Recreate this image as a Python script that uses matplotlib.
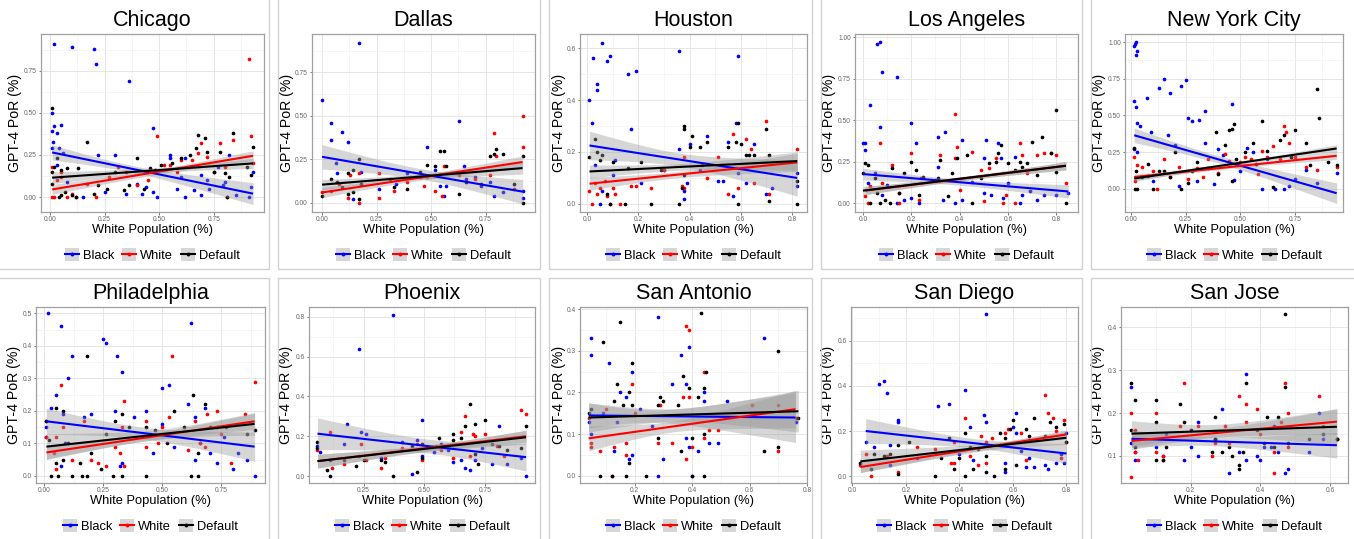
import numpy as np
import matplotlib
matplotlib.use('Agg')
import matplotlib.pyplot as plt
from matplotlib.patches import Patch
from matplotlib.lines import Line2D
from matplotlib.legend_handler import HandlerTuple
from matplotlib.ticker import FixedLocator, AutoMinorLocator

plt.rcParams['font.family'] = ['Liberation Sans', 'DejaVu Sans']

# ---------------- DATA (points as (white_pop, por) pairs) ----------------
series_names = ["Black", "White", "Default"]
series_colors = ["#0000ff", "#ff0000", "#000000"]

chicago_black = [(0.01,0.29),(0.01,0.50),(0.01,0.39),(0.02,0.42),(0.02,0.91),(0.015,0.33),(0.03,0.38),(0.05,0.43),(0.04,0.29),(0.03,0.19),(0.10,0.89),(0.20,0.88),(0.21,0.79),(0.36,0.69),(0.47,0.41),(0.30,0.25),(0.22,0.25),(0.08,0.09),(0.25,0.03),(0.35,0.02),(0.42,0.02),(0.47,0.03),(0.49,0.00),(0.55,0.25),(0.55,0.23),(0.58,0.05),(0.62,0.00),(0.62,0.23),(0.66,0.04),(0.69,0.13),(0.69,0.01),(0.72,0.10),(0.73,0.05),(0.77,0.18),(0.79,0.07),(0.80,0.09),(0.82,0.25),(0.85,0.01),(0.91,0.00),(0.92,0.06),(0.93,0.15),(0.06,0.26),(0.15,0.0),(0.40,0.08),(0.44,0.06),(0.60,0.12)]
chicago_white = [(0.01,0.18),(0.01,0.0),(0.02,0.0),(0.03,0.10),(0.05,0.15),(0.05,0.12),(0.08,0.0),(0.10,0.02),(0.12,0.0),(0.17,0.08),(0.21,0.0),(0.31,0.18),(0.35,0.15),(0.40,0.07),(0.49,0.36),(0.52,0.19),(0.55,0.19),(0.58,0.15),(0.65,0.22),(0.68,0.26),(0.69,0.32),(0.72,0.24),(0.78,0.32),(0.80,0.18),(0.81,0.0),(0.84,0.34),(0.91,0.82),(0.92,0.36),(0.93,0.20),(0.75,0.15),(0.45,0.10),(0.60,0.22),(0.27,0.12)]
chicago_default = [(0.01,0.53),(0.01,0.15),(0.01,0.08),(0.02,0.18),(0.03,0.23),(0.04,0.0),(0.05,0.01),(0.05,0.16),(0.08,0.17),(0.10,0.01),(0.13,0.17),(0.17,0.33),(0.20,0.02),(0.22,0.07),(0.26,0.05),(0.30,0.15),(0.34,0.04),(0.36,0.07),(0.40,0.23),(0.43,0.05),(0.46,0.17),(0.48,0.16),(0.51,0.19),(0.56,0.20),(0.60,0.23),(0.64,0.25),(0.67,0.29),(0.68,0.37),(0.71,0.35),(0.72,0.27),(0.75,0.15),(0.78,0.27),(0.80,0.14),(0.81,0.0),(0.82,0.12),(0.84,0.38),(0.90,0.18),(0.93,0.30),(0.92,0.13),(0.12,0.0),(0.07,0.03)]

dallas_black = [(0.0,0.59),(0.04,0.46),(0.04,0.36),(0.09,0.41),(0.12,0.35),(0.17,0.92),(0.065,0.23),(0.07,0.17),(0.14,0.02),(0.18,0.18),(0.26,0.08),(0.39,0.17),(0.48,0.32),(0.52,0.19),(0.54,0.10),(0.56,0.04),(0.57,0.10),(0.63,0.47),(0.65,0.21),(0.66,0.14),(0.73,0.10),(0.77,0.12),(0.79,0.04),(0.83,0.06),(0.92,0.03),(0.92,0.07),(0.34,0.11),(0.45,0.15),(0.70,0.15)]
dallas_white = [(0.0,0.06),(0.04,0.07),(0.08,0.11),(0.12,0.03),(0.13,0.16),(0.17,0.0),(0.17,0.17),(0.26,0.03),(0.26,0.17),(0.33,0.07),(0.39,0.12),(0.47,0.10),(0.52,0.07),(0.55,0.04),(0.56,0.21),(0.63,0.16),(0.77,0.16),(0.79,0.40),(0.80,0.27),(0.92,0.50),(0.92,0.32),(0.88,0.08),(0.48,0.15),(0.70,0.14)]
dallas_default = [(0.0,0.04),(0.04,0.14),(0.07,0.12),(0.09,0.09),(0.12,0.17),(0.12,0.05),(0.14,0.19),(0.14,0.06),(0.17,0.25),(0.17,0.02),(0.18,0.11),(0.31,0.14),(0.33,0.09),(0.39,0.08),(0.45,0.18),(0.48,0.22),(0.52,0.21),(0.54,0.30),(0.56,0.30),(0.57,0.21),(0.63,0.05),(0.66,0.12),(0.77,0.27),(0.79,0.28),(0.80,0.31),(0.83,0.28),(0.88,0.11),(0.92,0.27),(0.92,0.0),(0.73,0.11)]

houston_black = [(0.01,0.40),(0.02,0.31),(0.025,0.56),(0.03,0.15),(0.04,0.46),(0.04,0.44),(0.06,0.62),(0.08,0.55),(0.09,0.57),(0.16,0.50),(0.19,0.51),(0.17,0.29),(0.05,0.0),(0.06,0.05),(0.10,0.11),(0.11,0.17),(0.21,0.08),(0.36,0.59),(0.36,0.21),(0.38,0.02),(0.38,0.05),(0.39,0.08),(0.40,0.23),(0.47,0.26),(0.51,0.09),(0.53,0.09),(0.55,0.24),(0.57,0.03),(0.58,0.31),(0.59,0.57),(0.59,0.12),(0.62,0.08),(0.65,0.23),(0.70,0.04),(0.72,0.06),(0.82,0.12),(0.82,0.07),(0.30,0.13),(0.44,0.13)]
houston_white = [(0.01,0.05),(0.02,0.0),(0.03,0.08),(0.04,0.04),(0.05,0.06),(0.07,0.09),(0.08,0.03),(0.09,0.0),(0.10,0.06),(0.11,0.04),(0.13,0.0),(0.17,0.07),(0.19,0.07),(0.25,0.06),(0.37,0.07),(0.38,0.06),(0.38,0.18),(0.47,0.10),(0.51,0.18),(0.55,0.04),(0.57,0.27),(0.59,0.06),(0.62,0.25),(0.64,0.21),(0.65,0.08),(0.70,0.32),(0.71,0.04),(0.82,0.21),(0.30,0.13),(0.45,0.15)]
houston_default = [(0.01,0.18),(0.03,0.25),(0.04,0.20),(0.05,0.17),(0.06,0.19),(0.08,0.04),(0.09,0.0),(0.10,0.16),(0.15,0.0),(0.16,0.14),(0.21,0.16),(0.25,0.0),(0.29,0.13),(0.36,0.0),(0.37,0.06),(0.38,0.30),(0.38,0.29),(0.40,0.22),(0.41,0.26),(0.44,0.22),(0.47,0.24),(0.55,0.22),(0.58,0.24),(0.59,0.31),(0.59,0.0),(0.60,0.23),(0.62,0.19),(0.63,0.19),(0.65,0.19),(0.70,0.29),(0.71,0.01),(0.71,0.19),(0.82,0.0),(0.82,0.09),(0.38,0.11)]

la_black = [(0.0,0.36),(0.01,0.36),(0.01,0.32),(0.03,0.59),(0.06,0.96),(0.07,0.97),(0.08,0.79),(0.07,0.46),(0.14,0.76),(0.20,0.48),(0.22,0.36),(0.31,0.40),(0.34,0.43),(0.41,0.38),(0.51,0.38),(0.56,0.36),(0.02,0.12),(0.05,0.18),(0.08,0.05),(0.10,0.11),(0.14,0.0),(0.17,0.02),(0.20,0.03),(0.23,0.0),(0.31,0.22),(0.33,0.02),(0.38,0.0),(0.41,0.02),(0.50,0.27),(0.50,0.06),(0.53,0.05),(0.57,0.27),(0.58,0.03),(0.63,0.28),(0.65,0.0),(0.66,0.05),(0.69,0.07),(0.72,0.02),(0.75,0.05),(0.80,0.05),(0.85,0.06),(0.45,0.13),(0.60,0.12)]
la_white = [(0.01,0.04),(0.02,0.0),(0.03,0.10),(0.07,0.36),(0.08,0.12),(0.12,0.23),(0.15,0.06),(0.20,0.30),(0.23,0.02),(0.24,0.15),(0.32,0.29),(0.38,0.54),(0.38,0.27),(0.39,0.34),(0.40,0.08),(0.45,0.31),(0.49,0.20),(0.50,0.01),(0.52,0.21),(0.55,0.27),(0.58,0.0),(0.59,0.05),(0.63,0.0),(0.65,0.36),(0.66,0.29),(0.68,0.18),(0.72,0.29),(0.75,0.30),(0.78,0.30),(0.80,0.29),(0.84,0.12),(0.30,0.14),(0.15,0.0)]
la_default = [(0.0,0.18),(0.01,0.24),(0.02,0.23),(0.03,0.0),(0.05,0.15),(0.06,0.06),(0.07,0.0),(0.09,0.02),(0.11,0.0),(0.12,0.21),(0.15,0.06),(0.17,0.18),(0.20,0.25),(0.22,0.20),(0.23,0.05),(0.25,0.16),(0.31,0.15),(0.32,0.26),(0.35,0.04),(0.37,0.18),(0.39,0.27),(0.43,0.29),(0.45,0.0),(0.49,0.15),(0.52,0.24),(0.55,0.25),(0.56,0.30),(0.57,0.35),(0.60,0.24),(0.63,0.20),(0.65,0.25),(0.66,0.22),(0.68,0.24),(0.70,0.37),(0.74,0.40),(0.78,0.30),(0.80,0.56),(0.80,0.19),(0.84,0.0),(0.72,0.17)]

nyc_black = [(0.015,0.97),(0.02,0.99),(0.025,1.00),(0.03,0.94),(0.025,0.91),(0.015,0.60),(0.025,0.56),(0.03,0.45),(0.04,0.43),(0.015,0.27),(0.03,0.25),(0.075,0.62),(0.09,0.39),(0.13,0.69),(0.15,0.75),(0.18,0.65),(0.17,0.37),(0.23,0.70),(0.25,0.74),(0.26,0.48),(0.28,0.46),(0.31,0.47),(0.34,0.53),(0.46,0.58),(0.34,0.31),(0.40,0.27),(0.20,0.30),(0.30,0.05),(0.38,0.03),(0.42,0.23),(0.47,0.06),(0.53,0.28),(0.56,0.25),(0.60,0.0),(0.62,0.20),(0.66,0.0),(0.70,0.0),(0.72,0.02),(0.75,0.07),(0.80,0.13),(0.85,0.04),(0.94,0.11),(0.10,0.05),(0.22,0.02),(0.50,0.12)]
nyc_white = [(0.015,0.22),(0.02,0.05),(0.03,0.16),(0.05,0.15),(0.08,0.09),(0.10,0.12),(0.12,0.0),(0.15,0.20),(0.18,0.08),(0.22,0.15),(0.26,0.07),(0.30,0.14),(0.35,0.20),(0.40,0.11),(0.43,0.24),(0.45,0.19),(0.50,0.18),(0.52,0.22),(0.55,0.20),(0.60,0.26),(0.62,0.22),(0.65,0.29),(0.68,0.20),(0.70,0.43),(0.71,0.39),(0.72,0.31),(0.75,0.22),(0.80,0.15),(0.85,0.13),(0.94,0.15),(0.58,0.10),(0.33,0.08)]
nyc_default = [(0.015,0.28),(0.02,0.0),(0.025,0.12),(0.03,0.0),(0.05,0.08),(0.08,0.17),(0.10,0.0),(0.13,0.12),(0.15,0.12),(0.18,0.08),(0.20,0.25),(0.23,0.0),(0.26,0.04),(0.28,0.12),(0.30,0.18),(0.35,0.14),(0.39,0.39),(0.40,0.10),(0.43,0.30),(0.45,0.40),(0.46,0.41),(0.47,0.44),(0.46,0.05),(0.48,0.20),(0.52,0.25),(0.56,0.31),(0.60,0.46),(0.62,0.26),(0.65,0.01),(0.68,0.33),(0.70,0.37),(0.73,0.22),(0.75,0.40),(0.80,0.31),(0.82,0.16),(0.85,0.68),(0.86,0.48),(0.90,0.18),(0.94,0.16),(0.57,0.17)]

phila_black = [(0.01,0.15),(0.015,0.50),(0.01,0.12),(0.03,0.21),(0.05,0.25),(0.07,0.46),(0.08,0.19),(0.10,0.30),(0.12,0.37),(0.09,0.10),(0.07,0.03),(0.17,0.18),(0.20,0.19),(0.25,0.42),(0.26,0.41),(0.31,0.37),(0.33,0.32),(0.30,0.20),(0.32,0.03),(0.33,0.04),(0.38,0.18),(0.43,0.20),(0.46,0.07),(0.50,0.27),(0.53,0.28),(0.50,0.16),(0.61,0.22),(0.62,0.47),(0.64,0.05),(0.64,0.18),(0.66,0.10),(0.68,0.21),(0.70,0.07),(0.73,0.04),(0.76,0.12),(0.80,0.02),(0.82,0.07),(0.86,0.05),(0.89,0.0),(0.55,0.09)]
phila_white = [(0.01,0.17),(0.01,0.12),(0.04,0.07),(0.05,0.02),(0.05,0.12),(0.07,0.28),(0.08,0.15),(0.12,0.05),(0.17,0.17),(0.20,0.05),(0.23,0.04),(0.26,0.03),(0.30,0.09),(0.32,0.07),(0.33,0.15),(0.34,0.23),(0.34,0.03),(0.43,0.17),(0.43,0.09),(0.48,0.10),(0.50,0.15),(0.53,0.18),(0.54,0.37),(0.61,0.08),(0.64,0.17),(0.66,0.10),(0.68,0.09),(0.69,0.19),(0.73,0.20),(0.79,0.04),(0.85,0.19),(0.89,0.29),(0.75,0.13)]
phila_default = [(0.01,0.17),(0.02,0.11),(0.03,0.0),(0.05,0.04),(0.05,0.21),(0.06,0.0),(0.08,0.05),(0.08,0.20),(0.10,0.10),(0.12,0.0),(0.15,0.04),(0.16,0.0),(0.18,0.0),(0.18,0.37),(0.20,0.07),(0.24,0.02),(0.26,0.13),(0.29,0.0),(0.30,0.17),(0.33,0.19),(0.33,0.0),(0.36,0.15),(0.43,0.0),(0.43,0.15),(0.47,0.14),(0.52,0.10),(0.55,0.20),(0.59,0.15),(0.62,0.0),(0.63,0.25),(0.65,0.0),(0.65,0.07),(0.68,0.22),(0.70,0.15),(0.73,0.15),(0.77,0.15),(0.86,0.13),(0.89,0.14)]

phoenix_black = [(0.06,0.15),(0.07,0.12),(0.11,0.08),(0.17,0.16),(0.18,0.26),(0.23,0.64),(0.24,0.22),(0.26,0.21),(0.32,0.09),(0.37,0.81),(0.41,0.17),(0.45,0.01),(0.47,0.18),(0.49,0.28),(0.49,0.10),(0.54,0.12),(0.57,0.16),(0.62,0.07),(0.65,0.08),(0.67,0.04),(0.69,0.03),(0.71,0.08),(0.74,0.14),(0.78,0.06),(0.81,0.25),(0.84,0.06),(0.90,0.09),(0.92,0.0),(0.60,0.13)]
phoenix_white = [(0.06,0.13),(0.11,0.22),(0.12,0.04),(0.17,0.06),(0.23,0.10),(0.24,0.16),(0.26,0.08),(0.32,0.04),(0.34,0.09),(0.41,0.14),(0.47,0.16),(0.49,0.08),(0.57,0.13),(0.62,0.09),(0.65,0.22),(0.67,0.30),(0.69,0.10),(0.70,0.21),(0.71,0.20),(0.75,0.21),(0.80,0.15),(0.83,0.10),(0.90,0.33),(0.92,0.31),(0.55,0.15)]
phoenix_default = [(0.06,0.14),(0.06,0.17),(0.10,0.03),(0.11,0.0),(0.17,0.08),(0.22,0.05),(0.25,0.08),(0.32,0.08),(0.34,0.07),(0.37,0.0),(0.45,0.15),(0.47,0.02),(0.49,0.16),(0.49,0.09),(0.56,0.19),(0.62,0.21),(0.62,0.18),(0.65,0.19),(0.67,0.25),(0.69,0.36),(0.71,0.26),(0.71,0.11),(0.72,0.06),(0.75,0.28),(0.78,0.16),(0.81,0.15),(0.84,0.13),(0.90,0.14),(0.92,0.25)]

sanantonio_black = [(0.04,0.13),(0.05,0.29),(0.05,0.33),(0.05,0.10),(0.09,0.15),(0.11,0.27),(0.13,0.06),(0.14,0.13),(0.15,0.20),(0.17,0.19),(0.18,0.04),(0.19,0.25),(0.19,0.05),(0.22,0.16),(0.26,0.12),(0.28,0.38),(0.28,0.0),(0.30,0.04),(0.33,0.22),(0.36,0.29),(0.38,0.22),(0.39,0.31),(0.38,0.09),(0.39,0.07),(0.42,0.06),(0.44,0.20),(0.44,0.18),(0.46,0.08),(0.49,0.08),(0.52,0.18),(0.65,0.33),(0.76,0.13),(0.40,0.0)]
sanantonio_white = [(0.04,0.14),(0.05,0.08),(0.05,0.07),(0.08,0.06),(0.10,0.16),(0.12,0.0),(0.13,0.07),(0.17,0.05),(0.17,0.08),(0.19,0.22),(0.20,0.15),(0.28,0.08),(0.29,0.17),(0.33,0.08),(0.37,0.19),(0.38,0.36),(0.39,0.35),(0.38,0.04),(0.39,0.19),(0.40,0.07),(0.44,0.25),(0.44,0.09),(0.46,0.11),(0.49,0.11),(0.61,0.17),(0.70,0.06),(0.70,0.17),(0.76,0.14)]
sanantonio_default = [(0.04,0.15),(0.05,0.16),(0.08,0.0),(0.09,0.32),(0.12,0.0),(0.13,0.18),(0.14,0.22),(0.15,0.37),(0.16,0.17),(0.17,0.0),(0.18,0.20),(0.18,0.03),(0.19,0.27),(0.19,0.17),(0.24,0.0),(0.28,0.17),(0.28,0.09),(0.29,0.19),(0.30,0.18),(0.35,0.17),(0.36,0.06),(0.37,0.24),(0.39,0.21),(0.40,0.0),(0.40,0.09),(0.42,0.19),(0.43,0.39),(0.44,0.21),(0.44,0.10),(0.44,0.0),(0.45,0.25),(0.65,0.06),(0.70,0.30),(0.70,0.07),(0.77,0.14)]

sandiego_black = [(0.05,0.15),(0.08,0.13),(0.10,0.41),(0.12,0.42),(0.13,0.37),(0.14,0.05),(0.14,0.14),(0.17,0.25),(0.17,0.24),(0.24,0.08),(0.32,0.31),(0.36,0.32),(0.42,0.38),(0.44,0.22),(0.45,0.07),(0.49,0.27),(0.50,0.72),(0.50,0.24),(0.57,0.02),(0.57,0.06),(0.60,0.22),(0.61,0.28),(0.61,0.19),(0.63,0.11),(0.65,0.04),(0.66,0.08),(0.68,0.04),(0.72,0.05),(0.73,0.03),(0.76,0.06),(0.78,0.10),(0.79,0.06),(0.80,0.19),(0.40,0.10)]
sandiego_white = [(0.03,0.05),(0.05,0.10),(0.07,0.0),(0.13,0.09),(0.17,0.02),(0.24,0.13),(0.31,0.12),(0.37,0.06),(0.38,0.06),(0.38,0.15),(0.42,0.26),(0.44,0.09),(0.47,0.05),(0.48,0.18),(0.50,0.15),(0.50,0.06),(0.52,0.17),(0.57,0.19),(0.58,0.21),(0.63,0.19),(0.65,0.07),(0.66,0.16),(0.72,0.36),(0.73,0.28),(0.75,0.26),(0.76,0.20),(0.78,0.08),(0.79,0.25),(0.80,0.15)]
sandiego_default = [(0.03,0.06),(0.07,0.03),(0.08,0.10),(0.12,0.09),(0.14,0.10),(0.17,0.01),(0.17,0.14),(0.21,0.15),(0.31,0.0),(0.33,0.08),(0.36,0.17),(0.38,0.03),(0.40,0.08),(0.42,0.19),(0.42,0.0),(0.44,0.13),(0.45,0.03),(0.47,0.12),(0.50,0.09),(0.50,0.02),(0.53,0.0),(0.55,0.19),(0.57,0.17),(0.57,0.03),(0.59,0.21),(0.60,0.25),(0.61,0.05),(0.65,0.21),(0.66,0.18),(0.68,0.26),(0.72,0.18),(0.74,0.24),(0.76,0.22),(0.79,0.23),(0.80,0.15)]

sanjose_black = [(0.03,0.13),(0.03,0.26),(0.04,0.09),(0.04,0.11),(0.10,0.12),(0.12,0.10),(0.13,0.15),(0.18,0.09),(0.20,0.12),(0.22,0.18),(0.22,0.10),(0.27,0.14),(0.29,0.21),(0.31,0.06),(0.34,0.11),(0.36,0.29),(0.36,0.09),(0.39,0.10),(0.40,0.09),(0.41,0.12),(0.43,0.12),(0.44,0.17),(0.45,0.11),(0.47,0.06),(0.48,0.07),(0.54,0.11),(0.58,0.14),(0.57,0.20),(0.62,0.14)]
sanjose_white = [(0.03,0.05),(0.03,0.20),(0.04,0.16),(0.04,0.11),(0.05,0.09),(0.10,0.20),(0.10,0.11),(0.12,0.09),(0.12,0.10),(0.17,0.17),(0.18,0.27),(0.22,0.17),(0.26,0.10),(0.27,0.13),(0.30,0.17),(0.31,0.13),(0.34,0.24),(0.36,0.22),(0.36,0.18),(0.39,0.21),(0.40,0.15),(0.44,0.06),(0.44,0.11),(0.46,0.18),(0.47,0.27),(0.48,0.20),(0.48,0.12),(0.57,0.24),(0.58,0.17),(0.62,0.14)]
sanjose_default = [(0.03,0.16),(0.03,0.27),(0.04,0.23),(0.04,0.12),(0.10,0.18),(0.10,0.23),(0.10,0.09),(0.12,0.09),(0.13,0.12),(0.17,0.22),(0.18,0.18),(0.20,0.16),(0.26,0.11),(0.27,0.19),(0.27,0.14),(0.29,0.11),(0.31,0.12),(0.32,0.10),(0.34,0.08),(0.34,0.07),(0.35,0.11),(0.36,0.27),(0.39,0.16),(0.41,0.13),(0.42,0.19),(0.44,0.12),(0.45,0.19),(0.47,0.43),(0.47,0.26),(0.48,0.13),(0.54,0.14),(0.58,0.15),(0.62,0.14)]

# Fitted lines: (y at left end, y at right end,
# CI half-width at left end, minimum CI half-width, CI half-width at right end)
chicago_fits = [(0.265, 0.02, 0.045, 0.02, 0.065), (0.045, 0.245, 0.03, 0.015, 0.03), (0.115, 0.20, 0.035, 0.015, 0.03)]
dallas_fits = [(0.265, 0.065, 0.07, 0.03, 0.07), (0.06, 0.235, 0.03, 0.015, 0.035), (0.105, 0.20, 0.03, 0.015, 0.035)]
houston_fits = [(0.225, 0.10, 0.055, 0.025, 0.07), (0.078, 0.16, 0.025, 0.012, 0.035), (0.125, 0.165, 0.025, 0.013, 0.035)]
la_fits = [(0.175, 0.07, 0.035, 0.018, 0.04), (0.075, 0.225, 0.025, 0.012, 0.025), (0.075, 0.225, 0.025, 0.012, 0.025)]
nyc_fits = [(0.365, -0.03, 0.05, 0.025, 0.07), (0.08, 0.225, 0.02, 0.01, 0.025), (0.07, 0.275, 0.02, 0.01, 0.025)]
phila_fits = [(0.168, 0.09, 0.04, 0.018, 0.045), (0.072, 0.168, 0.02, 0.01, 0.025), (0.09, 0.16, 0.04, 0.015, 0.035)]
phoenix_fits = [(0.213, 0.095, 0.08, 0.035, 0.07), (0.075, 0.20, 0.035, 0.015, 0.03), (0.075, 0.195, 0.035, 0.015, 0.035)]
sanantonio_fits = [(0.145, 0.14, 0.03, 0.015, 0.06), (0.09, 0.16, 0.03, 0.013, 0.045), (0.14, 0.155, 0.035, 0.015, 0.05)]
sandiego_fits = [(0.20, 0.10, 0.055, 0.02, 0.045), (0.04, 0.185, 0.025, 0.01, 0.02), (0.065, 0.17, 0.05, 0.015, 0.03)]
sanjose_fits = [(0.14, 0.125, 0.02, 0.01, 0.03), (0.135, 0.18, 0.02, 0.01, 0.03), (0.152, 0.168, 0.03, 0.015, 0.042)]

city_titles = ["Chicago", "Dallas", "Houston", "Los Angeles", "New York City",
               "Philadelphia", "Phoenix", "San Antonio", "San Diego", "San Jose"]

xticks = [[0, 0.25, 0.5, 0.75], [0, 0.25, 0.5, 0.75], [0, 0.2, 0.4, 0.6, 0.8], [0, 0.2, 0.4, 0.6, 0.8], [0, 0.25, 0.5, 0.75],
          [0, 0.25, 0.5, 0.75], [0.25, 0.5, 0.75], [0.2, 0.4, 0.6, 0.8], [0, 0.2, 0.4, 0.6, 0.8], [0.2, 0.4, 0.6]]
yticks = [[0, 0.25, 0.5, 0.75], [0, 0.25, 0.5, 0.75], [0, 0.2, 0.4, 0.6], [0, 0.25, 0.5, 0.75, 1.0], [0, 0.25, 0.5, 0.75, 1.0],
          [0, 0.1, 0.2, 0.3, 0.4, 0.5], [0, 0.2, 0.4, 0.6, 0.8], [0, 0.1, 0.2, 0.3, 0.4], [0, 0.2, 0.4, 0.6], [0.1, 0.2, 0.3, 0.4]]

city_points = [
    (chicago_black, chicago_white, chicago_default),
    (dallas_black, dallas_white, dallas_default),
    (houston_black, houston_white, houston_default),
    (la_black, la_white, la_default),
    (nyc_black, nyc_white, nyc_default),
    (phila_black, phila_white, phila_default),
    (phoenix_black, phoenix_white, phoenix_default),
    (sanantonio_black, sanantonio_white, sanantonio_default),
    (sandiego_black, sandiego_white, sandiego_default),
    (sanjose_black, sanjose_white, sanjose_default),
]
city_fits = [chicago_fits, dallas_fits, houston_fits, la_fits, nyc_fits,
             phila_fits, phoenix_fits, sanantonio_fits, sandiego_fits, sanjose_fits]

# ---------------- LAYOUT (pixels) ----------------
W, H = 1354, 539
xlims = [(-0.041, 0.98), (-0.046, 0.977), (-0.027, 0.858), (-0.033, 0.89), (-0.027, 0.969),
         (-0.034, 0.934), (0.025, 0.957), (0.01, 0.80), (-0.005, 0.843), (0.0, 0.652)]
ylims = [(-0.089, 0.969), (-0.052, 0.97), (-0.031, 0.654), (-0.054, 1.02), (-0.158, 1.055),
         (-0.022, 0.52), (-0.035, 0.85), (-0.017, 0.405), (-0.031, 0.751), (0.037, 0.447)]
boxes = [(41, 264, 34, 212), (312, 535, 34, 212), (580, 807, 34, 212), (855, 1078, 34, 212), (1125, 1343, 34, 212),
         (36, 265, 307, 483), (309, 535, 307, 483), (580, 807, 307, 483), (851, 1078, 307, 483), (1121, 1348, 307, 483)]
ylabel_x = [15, 287, 559, 829, 1099, 14, 286, 559, 828, 1098]

fig = plt.figure(figsize=(W / 100, H / 100), dpi=100)

# panel cell separators
cells_x = [(-2, 269), (278, 540), (549, 812), (821, 1082), (1091, 1356)]
cells_y = [(-2, 269), (278, 541)]
for (cy0, cy1) in cells_y:
    for (cx0, cx1) in cells_x:
        fig.add_artist(plt.Rectangle((cx0 / W, 1 - cy1 / H), (cx1 - cx0) / W, (cy1 - cy0) / H,
                                     transform=fig.transFigure, fill=False,
                                     edgecolor='#d2d2d2', linewidth=1.0))


def half_width(x0, x1, hwL, hwM, hwR, xs):
    a = hwM ** 2
    dL = np.sqrt(max(hwL ** 2 - a, 1e-10))
    dR = np.sqrt(max(hwR ** 2 - a, 1e-10))
    xc = x0 + (x1 - x0) * dL / (dL + dR)
    b = (dL / max(xc - x0, 1e-9)) ** 2
    return np.sqrt(a + b * (xs - xc) ** 2)


def fmt_ticks(vals):
    steps = np.diff(vals)
    dec = 2 if np.any(np.abs(steps - 0.25) < 1e-9) else 1
    return [f"{v:.{dec}f}" for v in vals]


for i in range(10):
    l, r, t, b = boxes[i]
    ax = fig.add_axes([l / W, 1 - b / H, (r - l) / W, (b - t) / H])
    ax.set_facecolor('white')
    ax.set_xlim(*xlims[i])
    ax.set_ylim(*ylims[i])

    pts = city_points[i]
    fits = city_fits[i]
    for s in range(3):
        arr = np.array(pts[s])
        ax.scatter(arr[:, 0], arr[:, 1], s=7, color=series_colors[s], linewidths=0, zorder=2)
    for s in range(3):
        arr = np.array(pts[s])
        x0, x1 = arr[:, 0].min(), arr[:, 0].max()
        y0, y1, hwL, hwM, hwR = fits[s]
        xs = np.linspace(x0, x1, 80)
        ys = y0 + (y1 - y0) * (xs - x0) / (x1 - x0)
        hw = half_width(x0, x1, hwL, hwM, hwR, xs)
        ax.fill_between(xs, ys - hw, ys + hw, color='#999999', alpha=0.4, linewidth=0, zorder=3)
    for s in range(3):
        arr = np.array(pts[s])
        x0, x1 = arr[:, 0].min(), arr[:, 0].max()
        y0, y1 = fits[s][0], fits[s][1]
        ax.plot([x0, x1], [y0, y1], color=series_colors[s], lw=1.5, zorder=4, solid_capstyle='butt')

    ax.xaxis.set_major_locator(FixedLocator(xticks[i]))
    ax.yaxis.set_major_locator(FixedLocator(yticks[i]))
    ax.set_xticklabels(fmt_ticks(xticks[i]))
    ax.set_yticklabels(fmt_ticks(yticks[i]))
    ax.xaxis.set_minor_locator(AutoMinorLocator(2))
    ax.yaxis.set_minor_locator(AutoMinorLocator(2))
    ax.grid(True, which='major', color='#e6e6e6', linewidth=0.7, zorder=0)
    ax.grid(True, which='minor', color='#f2f2f2', linewidth=0.5, zorder=0)
    ax.set_axisbelow(True)
    ax.tick_params(which='major', length=1.8, width=0.6, color='#666666', labelsize=4.8,
                   labelcolor='#666666', pad=1.2)
    ax.tick_params(which='minor', length=0)
    for sp in ax.spines.values():
        sp.set_color('#a0a0a0')
        sp.set_linewidth(0.9)

    pw, ph = r - l, b - t
    ax.text(0.5, 1 + 8 / ph, city_titles[i], transform=ax.transAxes, ha='center', va='baseline',
            fontsize=15.5, color='black')
    ax.text(0.5, -21 / ph, "White Population (%)", transform=ax.transAxes, ha='center', va='baseline',
            fontsize=9.3, color='black')
    ax.text((ylabel_x[i] - l) / pw, 0.5, "GPT-4 PoR (%)", transform=ax.transAxes, ha='center', va='center',
            rotation=90, fontsize=10.2, color='black')

    handles = [(Patch(facecolor='#d6d6d6', edgecolor='none'),
                Line2D([], [], color=c, lw=1.5, marker='o', markersize=2.8, markeredgewidth=0))
               for c in series_colors]
    ax.legend(handles, series_names, handler_map={tuple: HandlerTuple(ndivide=1, pad=0)},
              loc='center', bbox_to_anchor=(0.5, -43 / ph), ncol=3, frameon=False,
              fontsize=9.3, handlelength=1.1, handleheight=1.1, handletextpad=0.3,
              columnspacing=0.6, borderpad=0, borderaxespad=0)

fig.savefig('out.png', dpi=100, facecolor='white')
